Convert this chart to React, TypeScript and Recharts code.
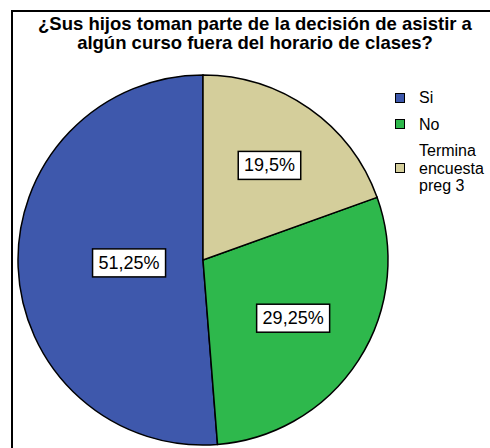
import React from "react";
import { PieChart, Pie, Cell, Legend } from "recharts";

const CATEGORIES = ["Si", "No", "Termina encuesta preg 3"];
const VALUES = [51.25, 29.25, 19.5];
const TITLE_LINES = [
  "¿Sus hijos toman parte de la decisión de asistir a",
  "algún curso fuera del horario de clases?",
];

const COLORS = ["#3E58AC", "#2EB84C", "#D4CE9B"];
// label distance from centre, as a share of the radius (SPSS-like placement)
const LABEL_RADIUS = [0.4, 0.58, 0.625];
const FONT = "'Liberation Sans', Arial, sans-serif";
const RADIAN = Math.PI / 180;

const data = CATEGORIES.map((name, i) => ({ name, value: VALUES[i] }));

const fmt = (v: number) => String(v).replace(".", ",") + "%";

const renderLabel = (props: any) => {
  const { cx, cy, midAngle, outerRadius, index, value } = props;
  const r = outerRadius * LABEL_RADIUS[index];
  const x = cx + r * Math.cos(-midAngle * RADIAN);
  const y = cy + r * Math.sin(-midAngle * RADIAN);
  const text = fmt(value);
  const w = text.length * 10.5 + 10;
  const h = 28;
  return (
    <g key={`lbl-${index}`}>
      <rect x={x - w / 2} y={y - h / 2} width={w} height={h} fill="#fff" stroke="#000" strokeWidth={1.5} />
      <text x={x} y={y + 1} textAnchor="middle" dominantBaseline="middle" fontSize={18} fontFamily={FONT} fill="#000">
        {text}
      </text>
    </g>
  );
};

const renderLegend = () => (
  <div style={{ fontFamily: FONT, fontSize: 16, color: "#000" }}>
    {data.map((d, i) => {
      const words = d.name.split(" ");
      const lines = i === 2 ? ["Termina", "encuesta", words.slice(2).join(" ")] : [d.name];
      return (
        <div key={d.name} style={{ display: "flex", alignItems: "center", marginBottom: i === 2 ? 0 : 9 }}>
          <div style={{ width: 8, height: 8, background: COLORS[i], border: "1px solid #000", marginRight: 14 }} />
          <div style={{ lineHeight: "17.5px" }}>
            {lines.map((l) => (
              <div key={l}>{l}</div>
            ))}
          </div>
        </div>
      );
    })}
  </div>
);

export default function App() {
  return (
    <div style={{ position: "absolute", left: 0, top: 0, width: 490, height: 448, overflow: "hidden", background: "#fff" }}>
      <div style={{ position: "absolute", left: 11, top: 10, width: 520, height: 520, border: "2px solid #000" }} />
      <div
        style={{
          position: "absolute",
          left: 20,
          top: 14,
          width: 470,
          textAlign: "center",
          fontFamily: FONT,
          fontWeight: "bold",
          fontSize: 18.5,
          lineHeight: "19px",
          color: "#000",
        }}
      >
        {TITLE_LINES.map((l) => (
          <div key={l}>{l}</div>
        ))}
      </div>
      <div style={{ position: "absolute", left: 0, top: 0 }}>
        <PieChart width={490} height={448} margin={{ top: 0, right: 0, bottom: 0, left: 0 }}>
          <Pie
            data={data}
            dataKey="value"
            nameKey="name"
            cx={203}
            cy={260}
            outerRadius={185}
            startAngle={90}
            endAngle={450}
            stroke="#000"
            strokeWidth={1.5}
            label={renderLabel}
            labelLine={false}
            isAnimationActive={false}
          >
            {data.map((d, i) => (
              <Cell key={d.name} fill={COLORS[i]} />
            ))}
          </Pie>
          <Legend content={renderLegend} layout="vertical" wrapperStyle={{ left: 395, top: 89, width: 95 }} />
        </PieChart>
      </div>
    </div>
  );
}
